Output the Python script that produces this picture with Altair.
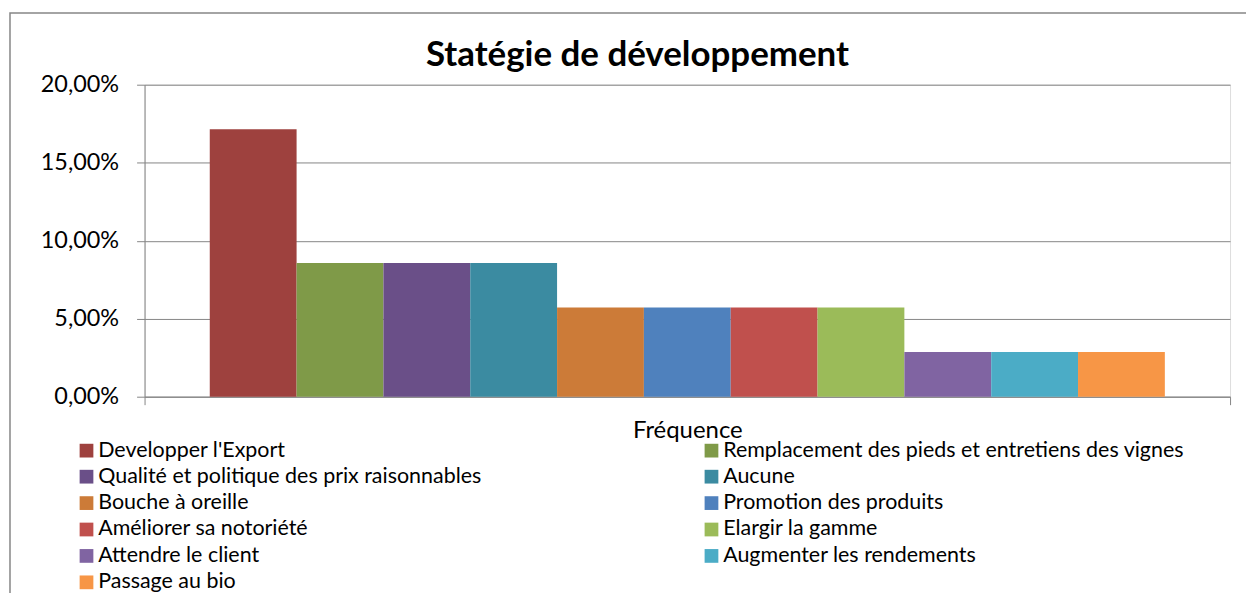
import altair as alt
import pandas as pd

# ---- data ----
category = "Fréquence"
series = [
    "Developper l'Export",
    "Remplacement des pieds et entretiens des vignes",
    "Qualité et politique des prix raisonnables",
    "Aucune",
    "Bouche à oreille",
    "Promotion des produits",
    "Améliorer sa notoriété",
    "Elargir la gamme",
    "Attendre le client",
    "Augmenter les rendements",
    "Passage au bio",
]
values = [0.1714, 0.0857, 0.0857, 0.0857, 0.0571, 0.0571, 0.0571, 0.0571, 0.0286, 0.0286, 0.0286]
colors = ["#9E413E", "#7F9A48", "#6A4F88", "#3B8BA1", "#CC7B38", "#4F81BD",
          "#C0504D", "#9BBB59", "#8064A2", "#4BACC6", "#F79646"]
y_ticks = [0, 0.05, 0.10, 0.15, 0.20]

df = pd.DataFrame({"cat": [category] * len(series), "series": series, "value": values})

# legend reads row by row in the reference; Vega fills legend columns first,
# so the colour domain is listed left column first, then right column
legend_order = series[0::2] + series[1::2]
legend_colors = colors[0::2] + colors[1::2]

FONT = "Lato"
GRID = "#868686"

bars = alt.Chart(df).mark_bar().encode(
    x=alt.X(
        "cat:N",
        title=None,
        scale=alt.Scale(paddingInner=0, paddingOuter=0),
        axis=alt.Axis(
            labelAngle=0, tickBand="extent", tickSize=8, tickColor=GRID,
            domainColor=GRID, labelPadding=14, labelFontSize=24, labelFont=FONT,
            labelColor="black", grid=False,
        ),
    ),
    xOffset=alt.XOffset("series:N", sort=series,
                        scale=alt.Scale(paddingInner=0, paddingOuter=0.751)),
    y=alt.Y(
        "value:Q",
        title=None,
        scale=alt.Scale(domain=[0, 0.2]),
        axis=alt.Axis(
            values=y_ticks,
            labelExpr="replace(format(datum.value, '.2%'), '.', ',')",
            tickSize=8, tickColor=GRID, domainColor=GRID, gridColor=GRID,
            labelPadding=18, labelFontSize=23.5, labelFont=FONT, labelColor="black",
        ),
    ),
    color=alt.Color(
        "series:N",
        scale=alt.Scale(domain=legend_order, range=legend_colors),
        legend=alt.Legend(
            title=None, orient="none", legendX=-69, legendY=356, columns=2,
            symbolType="square", symbolSize=190, symbolStrokeWidth=0,
            labelFont=FONT, labelFontSize=21.5, labelColor="black", labelLimit=1000,
            rowPadding=3.5, columnPadding=220, labelOffset=1,
        ),
    ),
)

border = alt.Chart(pd.DataFrame({"a": [0]})).mark_rect(
    filled=False, stroke=GRID, strokeWidth=1.5
).encode(
    x=alt.value(-135), x2=alt.value(1140), y=alt.value(-72), y2=alt.value(700)
)

chart = alt.layer(border, bars).properties(
    width=1089,
    height=313,
    autosize=alt.AutoSizeParams(type="none"),
    padding={"left": 137, "top": 76, "right": 16, "bottom": 196},
    title=alt.Title(
        "Statégie de développement", font=FONT, fontSize=35, fontWeight="bold",
        color="black", anchor="middle", dx=-50, dy=75, offset=14,
    ),
).configure_view(stroke=None).configure(background="white")

chart.save("out.html", embed_options={"renderer": "svg", "actions": False})
